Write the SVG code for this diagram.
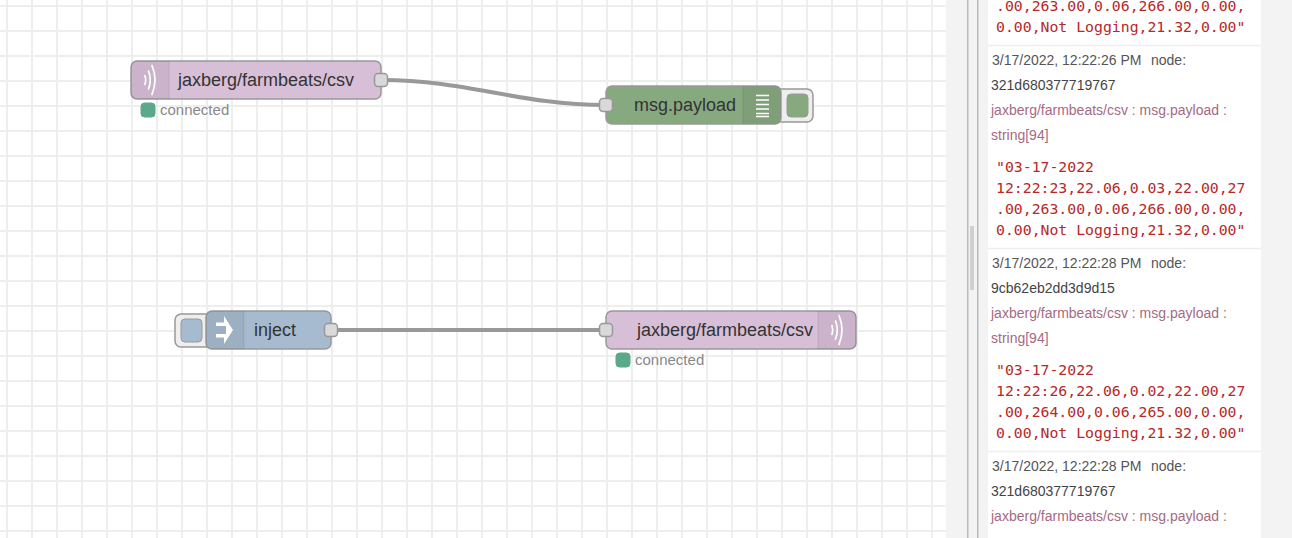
<svg xmlns="http://www.w3.org/2000/svg" width="1292" height="538" viewBox="0 0 1292 538">
<style>
text{font-family:"Liberation Sans",Arial,sans-serif}
.lbl{font-size:18px;fill:#333}
.st{font-size:15px;fill:#888}
.dot{fill:#5aa98a;stroke:#5aa98a}
.node{stroke:#999;stroke-width:1.5}
.port{fill:#d9d9d9;stroke:#999;stroke-width:1.5}
.wire{fill:none;stroke:#999;stroke-width:4}
.ico{fill:none;stroke:#fff;stroke-width:1.7;stroke-linecap:round}
.btn{fill:#eee;stroke:#999;stroke-width:1.5}
.m{font-size:14px;fill:#555}
.id{font-size:14px;fill:#444}
.t{font-size:14px;fill:#a66a83}
.v{font-family:"DejaVu Sans Mono","Liberation Mono",monospace;font-size:14.8px;fill:#b72828}
.sep{stroke:#eee;stroke-width:1.5}
</style>
<defs>
<pattern id="grid" width="25" height="25" patternUnits="userSpaceOnUse" x="6" y="5">
<path d="M0 0V25M0 0H25" stroke="#eee" stroke-width="4" fill="none"/>
</pattern>
</defs>
<rect width="1292" height="538" fill="#fff"/>
<g id="canvas"><rect width="946" height="538" fill="url(#grid)"/></g>
<g id="sidebar">
<rect x="946" width="346" height="538" fill="#f3f3f3"/>
<rect x="967" width="1.5" height="538" fill="#bbb"/>
<rect x="977" width="1.5" height="538" fill="#bbb"/>
<rect x="970" y="226" width="4" height="64" fill="#d0d0d0"/>
<rect x="988" width="273" height="538" fill="#fff"/>
<path class="sep" d="M988 45.500H1261M988 248.500H1261M988 451.500H1261"/>
<text class="v" x="996" y="11">.00,263.00,0.06,266.00,0.00,</text>
<text class="v" x="996" y="32">0.00,Not Logging,21.32,0.00"</text>
<text class="m" x="992" y="65">3/17/2022, 12:22:26 PM</text><text class="m" x="1151" y="65">node:</text>
<text class="id" x="991" y="90">321d680377719767</text>
<text class="t" x="991" y="115">jaxberg/farmbeats/csv : msg.payload :</text>
<text class="t" x="991" y="140">string[94]</text>
<text class="v" x="996" y="172">"03-17-2022</text>
<text class="v" x="996" y="193">12:22:23,22.06,0.03,22.00,27</text>
<text class="v" x="996" y="214">.00,263.00,0.06,266.00,0.00,</text>
<text class="v" x="996" y="235">0.00,Not Logging,21.32,0.00"</text>
<text class="m" x="992" y="268">3/17/2022, 12:22:28 PM</text><text class="m" x="1151" y="268">node:</text>
<text class="id" x="991" y="293">9cb62eb2dd3d9d15</text>
<text class="t" x="991" y="318">jaxberg/farmbeats/csv : msg.payload :</text>
<text class="t" x="991" y="343">string[94]</text>
<text class="v" x="996" y="375">"03-17-2022</text>
<text class="v" x="996" y="396">12:22:26,22.06,0.02,22.00,27</text>
<text class="v" x="996" y="417">.00,264.00,0.06,265.00,0.00,</text>
<text class="v" x="996" y="438">0.00,Not Logging,21.32,0.00"</text>
<text class="m" x="992" y="471">3/17/2022, 12:22:28 PM</text><text class="m" x="1151" y="471">node:</text>
<text class="id" x="991" y="496">321d680377719767</text>
<text class="t" x="991" y="521">jaxberg/farmbeats/csv : msg.payload :</text>
</g>
<g id="connectors">
<path class="wire" d="M381 80C470 80 517 105 606 105"/>
<path class="wire" d="M331 330H606"/>
</g>
<g id="mqtt-in">
<rect class="node" x="131" y="61" width="250" height="38" rx="6" fill="#d8bfd8"/>
<path d="M137 61H169V99H137a6 6 0 0 1-6-6V67a6 6 0 0 1 6-6z" fill="#000" opacity=".06"/>
<path d="M169 61V99" stroke="#000" opacity=".08"/>
<path class="ico" d="M145 75.500q1.500 4.500 0 9M148.500 71q3.500 9 0 18M152 65.500q6 14.500 0 29"/>
<text class="lbl" x="178" y="86">jaxberg/farmbeats/csv</text>
<rect class="port" x="374.500" y="73.500" width="13" height="13" rx="3.500"/>
<rect class="dot" x="141" y="103" width="14" height="14" rx="3.500"/>
<text class="st" x="160" y="115">connected</text>
</g>
<g id="debug">
<rect class="btn" x="775" y="89" width="38" height="33" rx="6"/>
<rect x="787" y="94" width="21" height="23" rx="4" fill="#87a980" stroke="#999"/>
<rect class="node" x="606" y="86" width="175" height="38" rx="6" fill="#87a980"/>
<path d="M743 86H775a6 6 0 0 1 6 6V118a6 6 0 0 1-6 6H743z" fill="#000" opacity=".06"/>
<path d="M743 86V124" stroke="#000" opacity=".08"/>
<path d="M756 95.500H769M756 100H769M756 104.500H769M756 109H769M756 113.500H769M756 116.500H769" stroke="#fff" stroke-width="1.500" fill="none"/>
<text class="lbl" x="634" y="111">msg.payload</text>
<rect class="port" x="599.500" y="98.500" width="13" height="13" rx="3.500"/>
</g>
<g id="inject">
<rect class="btn" x="175" y="314" width="38" height="33" rx="6"/>
<rect x="181" y="319" width="21" height="23" rx="4" fill="#a6bbcf" stroke="#999"/>
<rect class="node" x="206" y="311" width="125" height="38" rx="6" fill="#a6bbcf"/>
<path d="M212 311H244V349H212a6 6 0 0 1-6-6V317a6 6 0 0 1 6-6z" fill="#000" opacity=".06"/>
<path d="M244 311V349" stroke="#000" opacity=".08"/>
<path d="M224 316L232 316L233 316L232 316L232 316L232 316L232 316z" fill="none"/>
<path d="M222 323H226L226 315L232 315L232 316L232 316z" fill="none"/>
<path d="M216 322.500H224V316L233 330L224 344V337.500H216V334H226V326H216z" fill="#fff"/>
<text class="lbl" x="254" y="336">inject</text>
<rect class="port" x="324.500" y="323.500" width="13" height="13" rx="3.500"/>
</g>
<g id="mqtt-out">
<rect class="node" x="606" y="311" width="250" height="38" rx="6" fill="#d8bfd8"/>
<path d="M818 311H850a6 6 0 0 1 6 6V343a6 6 0 0 1-6 6H818z" fill="#000" opacity=".06"/>
<path d="M818 311V349" stroke="#000" opacity=".08"/>
<path class="ico" d="M832 325.500q1.500 4.500 0 9M835.500 321q3.500 9 0 18M839 315.500q6 14.500 0 29"/>
<text class="lbl" x="637" y="336">jaxberg/farmbeats/csv</text>
<rect class="port" x="599.500" y="323.500" width="13" height="13" rx="3.500"/>
<rect class="dot" x="616" y="353" width="14" height="14" rx="3.500"/>
<text class="st" x="635" y="365">connected</text>
</g>
</svg>
